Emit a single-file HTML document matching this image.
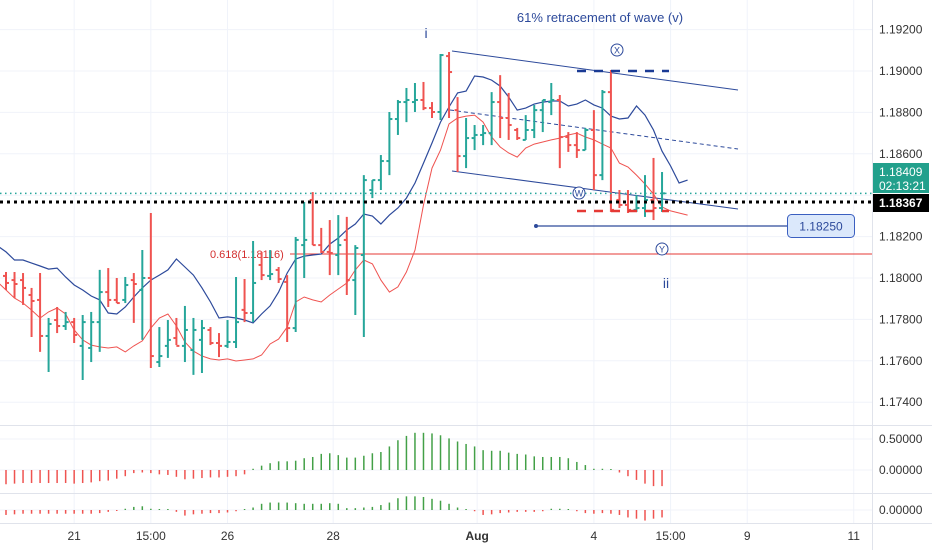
<!DOCTYPE html>
<html><head><meta charset="utf-8"><style>
html,body{margin:0;padding:0;background:#fff;}
svg{display:block;font-family:"Liberation Sans",sans-serif;}
</style></head><body>
<svg id="chart" width="932" height="550" viewBox="0 0 932 550"></svg>
<script>
const dateLabels=["21","15:00","26","28","Aug","4","15:00","9","11"];
const dateBarIndex=[8,17,26,38.4,55.3,69,78,87,99.5];
const priceTicks=[1.192,1.19,1.188,1.186,1.182,1.18,1.178,1.176,1.174];
const openP=[1.18010,1.17990,1.17990,1.17918,1.17894,1.17720,1.17797,1.17768,1.17787,1.17672,1.17662,1.17787,1.17932,1.17894,1.17894,1.17990,1.17942,1.18000,1.17594,1.17672,1.17710,1.17672,1.17652,1.17701,1.17749,1.17686,1.17672,1.17691,1.17846,1.17831,1.18063,1.18010,1.18039,1.17981,1.17758,1.18159,1.18377,1.18159,1.18126,1.18111,1.18184,1.17990,1.18111,1.18425,1.18473,1.18565,1.18768,1.18850,1.18850,1.18860,1.18821,1.18802,1.19072,1.18811,1.18589,1.18676,1.18691,1.18700,1.18850,1.18773,1.18715,1.18667,1.18715,1.18811,1.18850,1.18860,1.18681,1.18642,1.18618,1.18715,1.18497,1.18898,1.18377,1.18353,1.18329,1.18338,1.18377,1.18338];
const highP=[1.18029,1.18029,1.18024,1.17952,1.18024,1.17807,1.17860,1.17836,1.17807,1.17821,1.17836,1.18039,1.18048,1.18000,1.18005,1.18024,1.18135,1.18314,1.17763,1.17797,1.17807,1.17865,1.17807,1.17797,1.17763,1.17734,1.17797,1.18005,1.17995,1.18179,1.18126,1.18135,1.18053,1.18014,1.18198,1.18367,1.18415,1.18242,1.18280,1.18304,1.18295,1.18159,1.18497,1.18473,1.18594,1.18802,1.18860,1.18918,1.18942,1.18947,1.18850,1.19082,1.19092,1.18874,1.18773,1.18739,1.18739,1.18898,1.18980,1.18894,1.18725,1.18787,1.18836,1.18860,1.18942,1.18884,1.18705,1.18705,1.18725,1.18811,1.18908,1.19005,1.18425,1.18425,1.18401,1.18497,1.18580,1.18512];
const lowP=[1.17942,1.17903,1.17870,1.17715,1.17643,1.17546,1.17734,1.17749,1.17686,1.17507,1.17594,1.17643,1.17860,1.17879,1.17879,1.17783,1.17701,1.17565,1.17570,1.17614,1.17676,1.17594,1.17532,1.17541,1.17676,1.17618,1.17662,1.17662,1.17787,1.17787,1.17990,1.17990,1.17976,1.17691,1.17739,1.18000,1.18159,1.18121,1.18014,1.18014,1.17918,1.17821,1.17715,1.18386,1.18425,1.18497,1.18691,1.18753,1.18802,1.18811,1.18773,1.18763,1.18773,1.18512,1.18531,1.18618,1.18642,1.18642,1.18676,1.18667,1.18667,1.18667,1.18676,1.18705,1.18787,1.18531,1.18609,1.18580,1.18618,1.18425,1.18473,1.18319,1.18338,1.18314,1.18319,1.18295,1.18280,1.18319];
const closeP=[1.17976,1.17971,1.17952,1.17889,1.17720,1.17778,1.17768,1.17787,1.17725,1.17787,1.17787,1.17932,1.17894,1.17879,1.17966,1.17971,1.18000,1.17623,1.17623,1.17701,1.17672,1.17749,1.17749,1.17758,1.17686,1.17672,1.17691,1.17787,1.17831,1.17976,1.18014,1.18019,1.17995,1.17758,1.18184,1.18184,1.18159,1.18126,1.18121,1.18159,1.17990,1.18145,1.18473,1.18473,1.18565,1.18768,1.18850,1.18860,1.18860,1.18821,1.18802,1.19077,1.18995,1.18589,1.18676,1.18691,1.18700,1.18850,1.18773,1.18739,1.18676,1.18715,1.18811,1.18860,1.18860,1.18681,1.18642,1.18618,1.18715,1.18497,1.18898,1.18329,1.18353,1.18329,1.18338,1.18377,1.18338,1.18409];
const blueMA=[1.18155,1.18126,1.18087,1.18087,1.18072,1.18058,1.18043,1.18048,1.18005,1.17966,1.17942,1.17913,1.17894,1.17831,1.17826,1.17860,1.17908,1.17952,1.17990,1.18014,1.18039,1.18092,1.18053,1.18014,1.17952,1.17884,1.17807,1.17812,1.17807,1.17797,1.17783,1.17826,1.17865,1.17932,1.18024,1.18092,1.18106,1.18111,1.18116,1.18164,1.18193,1.18232,1.18261,1.18309,1.18299,1.18261,1.18304,1.18338,1.18386,1.18459,1.18555,1.18652,1.18753,1.18826,1.18894,1.18903,1.18976,1.18971,1.18956,1.18927,1.18874,1.18811,1.18821,1.18840,1.18850,1.18855,1.18855,1.18831,1.18840,1.18860,1.18836,1.18821,1.18782,1.18768,1.18773,1.18831,1.18787,1.18715,1.18613,1.18541,1.18459,1.18473];
const redMA=[1.17981,1.17942,1.17903,1.17879,1.17845,1.17807,1.17836,1.17855,1.17826,1.17749,1.17701,1.17676,1.17667,1.17662,1.17667,1.17643,1.17672,1.17696,1.17758,1.17807,1.17826,1.17768,1.17691,1.17647,1.17623,1.17609,1.17604,1.17609,1.17599,1.17604,1.17609,1.17628,1.17681,1.17705,1.17763,1.17884,1.17908,1.17894,1.17884,1.17918,1.17947,1.17976,1.18039,1.18087,1.18068,1.17990,1.17932,1.17957,1.18029,1.18135,1.18353,1.18531,1.18618,1.18744,1.18773,1.18782,1.18787,1.18753,1.18681,1.18633,1.18604,1.18584,1.18628,1.18647,1.18657,1.18667,1.18676,1.18691,1.18700,1.18681,1.18667,1.18647,1.18628,1.18555,1.18536,1.18497,1.18454,1.18406,1.18343,1.18324,1.18314,1.18304];
const osc1=[-0.23,-0.22,-0.21,-0.21,-0.21,-0.21,-0.21,-0.21,-0.22,-0.21,-0.20,-0.18,-0.17,-0.14,-0.10,-0.05,-0.04,-0.05,-0.07,-0.08,-0.11,-0.15,-0.14,-0.13,-0.12,-0.12,-0.11,-0.10,-0.07,0.02,0.07,0.11,0.14,0.14,0.15,0.19,0.21,0.26,0.27,0.24,0.20,0.20,0.23,0.27,0.29,0.38,0.48,0.55,0.60,0.60,0.59,0.56,0.51,0.46,0.42,0.38,0.32,0.31,0.31,0.28,0.26,0.25,0.22,0.21,0.21,0.21,0.19,0.13,0.08,0.02,0.02,0.00,-0.04,-0.10,-0.16,-0.22,-0.26,-0.26];
const osc2=[-0.08,-0.07,-0.06,-0.06,-0.06,-0.06,-0.06,-0.06,-0.06,-0.06,-0.06,-0.05,-0.03,-0.01,0.02,0.05,0.06,0.02,0.01,0.00,-0.03,-0.09,-0.07,-0.06,-0.05,-0.05,-0.04,-0.02,0.01,0.04,0.10,0.12,0.12,0.12,0.11,0.10,0.10,0.10,0.11,0.10,0.03,0.03,0.04,0.05,0.08,0.12,0.19,0.22,0.22,0.21,0.18,0.15,0.10,0.04,0.01,-0.02,-0.08,-0.07,-0.05,-0.04,-0.03,-0.03,-0.03,-0.02,0.02,0.02,0.01,-0.02,-0.05,-0.06,-0.05,-0.06,-0.08,-0.12,-0.14,-0.17,-0.14,-0.12];

const NS="http://www.w3.org/2000/svg";
const svg=document.getElementById('chart');
const GREEN="#26a69a",RED="#ef5350",NAVY="#2d4a9b";
const xBar=i=>6+i*8.52;
const yP=p=>278-(p-1.18)*20700;
const yO1=v=>470-v*62;
const yO2=v=>510-v*62;
function el(tag,attrs,parent){const e=document.createElementNS(NS,tag);for(const k in attrs)e.setAttribute(k,attrs[k]);(parent||svg).appendChild(e);return e;}
function txt(s,x,y,attrs,parent){const t=el('text',Object.assign({x:x,y:y},attrs),parent);t.textContent=s;return t;}

// grid
const grid=el('g',{});


dateBarIndex.forEach(b=>{const l=el('line',{x1:xBar(b),x2:xBar(b),y1:0,y2:523,stroke:'#f0f3fa','stroke-width':1},grid);});
priceTicks.concat([1.184]).forEach(p=>{el('line',{x1:0,x2:872,y1:yP(p),y2:yP(p),stroke:'#f0f3fa','stroke-width':1},grid);});
[439,470,510].forEach(y=>el('line',{x1:0,x2:872,y1:y,y2:y,stroke:'#f0f3fa'},grid));
// pane separators & axis
[425,493,523].forEach(y=>{const l=el('line',{x1:0,x2:932,y1:y+0.5,y2:y+0.5,stroke:'#e0e3eb','stroke-width':1});});
const ax=el('line',{x1:872.5,x2:872.5,y1:0,y2:550,stroke:'#e0e3eb'});


// fib line
const fib=el('g',{});
el('line',{x1:290,x2:872,y1:yP(1.18116),y2:yP(1.18116),stroke:'#e53935','stroke-width':1},fib);
txt('0.618(1.18116)',210,yP(1.18116)+4,{fill:'#d32f2f','font-size':11},fib);

// channel
const ch=el('g',{});
el('line',{x1:452,y1:51,x2:738,y2:90,stroke:NAVY,'stroke-width':1},ch);
el('line',{x1:452,y1:171,x2:738,y2:209,stroke:NAVY,'stroke-width':1},ch);
el('line',{x1:450,y1:110,x2:738,y2:149,stroke:NAVY,'stroke-width':1,'stroke-dasharray':'4,3'},ch);

// MAs
function ma(arr,color,name,w){let d='';arr.forEach((v,j)=>{d+=(j?'L':'M')+xBar(j-1).toFixed(1)+','+yP(v).toFixed(1);});const p=el('path',{d:d,fill:'none',stroke:color,'stroke-width':w});}
ma(redMA,RED,'red-moving-average',1);
ma(blueMA,NAVY,'blue-moving-average',1.2);

// bars
const bars=el('g',{});
for(let i=0;i<openP.length;i++){
  const x=xBar(i),c=closeP[i]>=openP[i]?GREEN:RED;
  const g=el('g',{stroke:c,'stroke-width':2},bars);
  
  
  el('line',{x1:x,x2:x,y1:yP(highP[i]),y2:yP(lowP[i])},g);
  el('line',{x1:x-3,x2:x,y1:yP(openP[i]),y2:yP(openP[i])},g);
  el('line',{x1:x,x2:x+3,y1:yP(closeP[i]),y2:yP(closeP[i])},g);
}

// price lines
const gl=el('line',{x1:0,x2:872,y1:yP(closeP[closeP.length-1]),y2:yP(closeP[closeP.length-1]),stroke:GREEN,'stroke-width':1.5,'stroke-dasharray':'1.5,3.5'});

const bl=el('line',{x1:0,x2:872,y1:yP(1.18367),y2:yP(1.18367),stroke:'#000','stroke-width':3,'stroke-dasharray':'3,4'});


// dashed horizontal markers
const d1=el('line',{x1:577,x2:669,y1:71,y2:71,stroke:'#1a3a94','stroke-width':2.5,'stroke-dasharray':'9,8'});
const d2=el('line',{x1:577,x2:669,y1:211,y2:211,stroke:'#e53935','stroke-width':2.5,'stroke-dasharray':'9,8'});

// 1.18250 line
const tl=el('g',{});
el('line',{x1:536,x2:788,y1:226,y2:226,stroke:NAVY,'stroke-width':1.2},tl);
el('circle',{cx:536,cy:226,r:2,fill:NAVY},tl);
el('rect',{x:787.5,y:214.5,width:67,height:23,rx:4,fill:'#dbe8fb',stroke:'#3b5fc0'},tl);
txt('1.18250',821,230.5,{'text-anchor':'middle','font-size':12,fill:'#2d4a9b'},tl);

// wave labels
function circ(l,x,y,name){const g=el('g',{});el('circle',{cx:x,cy:y,r:6,fill:'#fff',stroke:NAVY,'stroke-width':1},g);txt(l,x,y+3.5,{'text-anchor':'middle','font-size':9,fill:NAVY},g);}
circ('X',617,50,'wave-x-label');circ('W',579,193,'wave-w-label');circ('Y',662,249,'wave-y-label');
const wi=txt('i',426,38,{'font-size':14,fill:NAVY,'text-anchor':'middle'});
const wii=txt('ii',666,288,{'font-size':14,fill:NAVY,'text-anchor':'middle'});
const tt=txt('61% retracement of wave (v)',600,22,{'font-size':13,fill:'#2d4a9b','text-anchor':'middle'});

// oscillators
function osc(arr,yf,name){const g=el('g',{'stroke-width':1.5});
 arr.forEach((v,i)=>{const x=xBar(i),y0=yf(0),y1=yf(v);const l=el('line',{x1:x,x2:x,y1:y0,y2:Math.abs(y1-y0)<1?y0+(v>=0?-1:1):y1,stroke:v>=0?'#43a047':RED},g);});}
osc(osc1,yO1,'oscillator-upper');
osc(osc2,yO2,'oscillator-lower');

// price axis labels
const pa=el('g',{'font-size':12,fill:'#333'});
priceTicks.forEach(p=>{const t=txt(p.toFixed(5),879,yP(p)+4,{},pa);});
txt('0.50000',879,yO1(0.5)+4,{},pa);txt('0.00000',879,yO1(0)+4,{},pa);txt('0.00000',879,yO2(0)+4,{},pa);
// current price box
const cb=el('g',{});
el('rect',{x:873,y:163,width:56,height:30,fill:'#22a08c'},cb);
txt(closeP[closeP.length-1].toFixed(5),879,176,{'font-size':12,fill:'#fff'},cb);
txt('02:13:21',879,190,{'font-size':12,fill:'#fff'},cb);
const kb=el('g',{});
el('rect',{x:873,y:194,width:56,height:18,fill:'#000'},kb);
txt('1.18367',879,207,{'font-size':12,fill:'#fff','font-weight':'bold'},kb);

// time axis
const ta=el('g',{'font-size':12,fill:'#333','text-anchor':'middle'});
dateLabels.forEach((s,k)=>{const t=txt(s,xBar(dateBarIndex[k]),540,{'font-weight':s==='Aug'?'bold':'normal'},ta);});
</script>
</body></html>
